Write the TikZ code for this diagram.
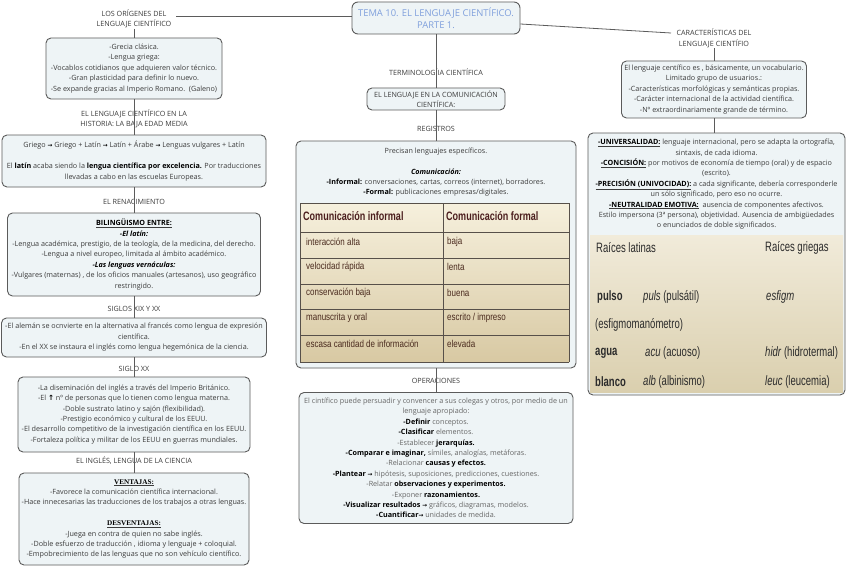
\documentclass[tikz,border=0pt]{standalone}
\usepackage{fontspec}
\setmainfont{Open Sans}
\newfontfamily\estrecha[FakeStretch=0.8]{Liberation Sans}
\newfontfamily\angosta[FakeStretch=0.74]{Liberation Sans}
\newfontfamily\comprimida[FakeStretch=0.7]{Liberation Sans}
\newfontfamily\simbolo{DejaVu Sans}
\newfontfamily\serifa{Liberation Serif}

\definecolor{borde}{HTML}{5B5B5B}
\definecolor{fondo}{HTML}{EEF4F6}
\definecolor{texto}{HTML}{3C3C3C}
\definecolor{gris}{HTML}{666666}
\definecolor{titulo}{HTML}{7F9FDC}
\definecolor{tablaA}{HTML}{F6F0DD}
\definecolor{tablaB}{HTML}{D8C9A3}
\definecolor{rejilla}{HTML}{57504A}
\definecolor{marron}{HTML}{4A2A1E}
\definecolor{granate}{HTML}{4B1E1E}
\definecolor{raizA}{HTML}{F1EBDA}
\definecolor{raizB}{HTML}{DACFAE}
\definecolor{oscuro}{HTML}{2B2B2B}

\newcommand{\resalta}[1]{{\color{black}\bfseries #1}}
\newcommand{\flecha}{{\simbolo\bfseries\color{black}\fontsize{5.8}{10.4}\selectfont →}}
\newcommand{\sube}{{\simbolo\bfseries\color{black}↑}}
\newcommand{\barra}{/}
\newcommand{\letra}{\fontsize{7.2}{10.4}\selectfont}

\begin{document}
\begin{tikzpicture}[x=1pt,y=-1pt,
  caja/.style={rectangle,draw=borde,fill=fondo,rounded corners=5pt,line width=0.9pt,align=center,inner sep=2pt,font=\letra,text=texto},
  etiqueta/.style={align=center,inner sep=0.5pt,font=\letra,text=texto},
  linea/.style={draw=borde,line width=0.8pt},
  rejilla/.style={draw=rejilla,line width=0.9pt},
  cabecera/.style={anchor=west,inner sep=0pt,font=\angosta\bfseries\fontsize{12.2}{14}\selectfont,text=granate},
  celda/.style={anchor=west,inner sep=0pt,font=\estrecha\fontsize{10}{12}\selectfont,text=marron},
  raiz/.style={anchor=west,inner sep=0pt,font=\comprimida\fontsize{13.6}{15}\selectfont,text=oscuro}]

  \useasboundingbox [fill=white] (0,0) rectangle (848,567);

  \node at (436,18) [caja,minimum width=168pt,minimum height=32pt,rounded corners=6pt,text=titulo,font=\fontsize{9.4}{12}\selectfont] (tema) {TEMA 10. EL LENGUAJE CIENTÍFICO.\\PARTE 1.};
  \coordinate (finorig) at (176,16);
  \coordinate (fincar) at (671,33);

  % columna izquierda
  \node at (134,19) [etiqueta] (origenes) {LOS ORÍGENES DEL\\LENGUAJE CIENTÍFICO};
  \node at (134,68.5) [caja,minimum width=176pt,minimum height=61pt] (grecia) {-Grecia clásica.\\-Lengua griega:\\-Vocablos cotidianos que adquieren valor técnico.\\-Gran plasticidad para definir lo nuevo.\\-Se expande gracias al Imperio Romano.\ \ (Galeno)};
  \node at (134,119) [etiqueta] (historia) {EL LENGUAJE CIENTÍFICO EN LA\\HISTORIA: LA BAJA EDAD MEDIA};
  \node at (134,161) [caja,minimum width=264pt,minimum height=52pt] (baja) {Griego \flecha{} Griego + Latín \flecha{} Latín + Árabe \flecha{} Lenguas vulgares + Latín\\[10.4pt]
    El \resalta{latín} acaba siendo la \resalta{lengua científica por excelencia.} Por traducciones\\llevadas a cabo en las escuelas Europeas.};
  \node at (134,202) [etiqueta] (renacimiento) {EL RENACIMIENTO};
  \node at (134,254.5) [caja,minimum width=253pt,minimum height=83pt] (bilingue) {\underline{\resalta{BILINGÜISMO ENTRE:}}\\\resalta{\itshape -El latín:}\\
    -Lengua académica, prestigio, de la teología, de la medicina, del derecho.\\-Lengua a nivel europeo, limitada al ámbito académico.\\
    \resalta{\itshape -Las lenguas vernáculas:}\\-Vulgares (maternas) , de los oficios manuales (artesanos), uso geográfico\\restringido.};
  \node at (134,309) [etiqueta] (xixxx) {SIGLOS XIX Y XX};
  \node at (134,337.5) [caja,minimum width=265pt,minimum height=39pt] (aleman) {-El alemán se ocnvierte en la alternativa al francés como lengua de expresión\\científica.\\-En el XX se instaura el inglés como lengua hegemónica de la ciencia.};
  \node at (134,369) [etiqueta] (sigloxx) {SIGLO XX};
  \node at (134,414.5) [caja,minimum width=232pt,minimum height=75pt] (ingles) {-La diseminación del inglés a través del Imperio Británico.\\-El \sube{} nº de personas que lo tienen como lengua materna.\\
    -Doble sustrato latino y sajón (flexibilidad).\\-Prestigio económico y cultural de los EEUU.\\
    -El desarrollo competitivo de la investigación científica en los EEUU.\\-Fortaleza política y militar de los EEUU en guerras mundiales.};
  \node at (134,461) [etiqueta] (ciencia) {EL INGLÉS, LENGUA DE LA CIENCIA};
  \node at (134,519) [caja,minimum width=230pt,minimum height=92pt] (ventajas) {\underline{\resalta{\serifa VENTAJAS:}}\\-Favorece la comunicación científica internacional.\\
    -Hace innecesarias las traducciones de los trabajos a otras lenguas.\\[10.4pt]
    \underline{\resalta{\serifa DESVENTAJAS:}}\\-Juega en contra de quien no sabe inglés.\\
    -Doble esfuerzo de traducción , idioma y lenguaje + coloquial.\\-Empobrecimiento de las lenguas que no son vehículo científico.};

  % columna central
  \node at (436,72) [etiqueta] (terminologia) {TERMINOLOGÍIA CIENTÍFICA};
  \node at (436,99) [caja,minimum width=138pt,minimum height=22pt] (comun) {EL LENGUAJE EN LA COMUNICACIÓN\\CIENTÍFICA:};
  \node at (436,129) [etiqueta] (registros) {REGISTROS};
  \node at (436,254.5) [caja,minimum width=280pt,minimum height=227pt] (precisan) {};
  \node at (precisan.north) [etiqueta,anchor=north,yshift=-6.5pt] (precisantxt) {Precisan lenguajes específicos.\\[10.4pt]
    \resalta{\itshape Comunicación:}\\\resalta{-Informal:} conversaciones, cartas, correos (internet), borradores.\\\resalta{-Formal:} publicaciones empresas/digitales.};

  \shade [top color=tablaA,bottom color=tablaB] (300,203) rectangle (569,362);
  \foreach \y in {203,232,258,284,309,335,362}
    \draw [rejilla] (300,\y) -- (569,\y);
  \foreach \x in {300,443,569}
    \draw [rejilla] (\x,203) -- (\x,362);
  \node at (303,216) [cabecera] (cabinf) {Comunicación informal};
  \node at (446,216) [cabecera] (cabfor) {Comunicación formal};
  \foreach \y/\a/\b in {242/interacción alta/baja, 267/velocidad rápida/lenta, 293/conservación baja/buena,
      318/manuscrita y oral/escrito \barra{} impreso, 344/escasa cantidad de información/elevada} {
    \node at (306,\y) [celda] (inf\y) {\a};
    \node at (447,\y) [celda] (for\y) {\b};
  }

  \node at (436,381) [etiqueta] (operaciones) {OPERACIONES};
  \node at (436,458) [caja,minimum width=274pt,minimum height=131pt,text=gris] (cintifico) {El cintífico puede persuadir y convencer a sus colegas y otros, por medio de un\\lenguaje apropiado:\\
    \resalta{-Definir} conceptos.\\\resalta{-Clasificar} elementos.\\-Establecer \resalta{jerarquías.}\\
    \resalta{-Comparar e imaginar,} símiles, analogías, metáforas.\\-Relacionar \resalta{causas y efectos.}\\
    \resalta{-Plantear} \flecha{} hipótesis, suposiciones, predicciones, cuestiones.\\-Relatar \resalta{observaciones y experimentos.}\\
    -Exponer \resalta{razonamientos.}\\\resalta{-Visualizar resultados} \flecha{} gráficos, diagramas, modelos.\\\resalta{-Cuantificar}\flecha{} unidades de medida.};

  % columna derecha
  \node at (714,38.5) [etiqueta] (caract) {CARACTERÍSTICAS DEL\\LENGUAJE CIENTÍFIO};
  \node at (714,89.5) [caja,minimum width=185pt,minimum height=57pt] (vocab) {El lenguaje centífico es , básicamente, un vocabulario.\\Limitado grupo de usuarios.:\\
    -Características morfológicas y semánticas propias.\\-Carácter internacional de la actividad científica.\\-Nº extraordinariamente grande de término.};
  \node at (716.5,264) [caja,minimum width=257pt,minimum height=262pt] (rasgos) {};
  \node at (rasgos.north) [etiqueta,anchor=north,yshift=-6pt] (rasgostxt) {\underline{\resalta{-UNIVERSALIDAD:}} lenguaje internacional, pero se adapta la ortografía,\\sintaxis, de cada idioma.\\
    \underline{\resalta{-CONCISIÓN:}} por motivos de economía de tiempo (oral) y de espacio\\(escrito).\\
    \underline{\resalta{-PRECISIÓN (UNIVOCIDAD):}} a cada significante, debería corresponderle\\un sólo significado, pero eso no ocurre.\\
    \underline{\resalta{-NEUTRALIDAD EMOTIVA:}}\ \ ausencia de componentes afectivos.\\
    Estilo impersona (3ª persona), objetividad. Ausencia de ambigüedades\\o enunciados de doble significados.};

  \shade [top color=raizA,bottom color=raizB] (590,235) rectangle (843,392);
  \node at (596,248) [raiz] (latinas) {Raíces latinas};
  \node at (765,248) [raiz] (griegas) {Raíces griegas};
  \node at (597,297) [raiz] (pulso) {\bfseries pulso};
  \node at (643,297) [raiz] (puls) {\textit{puls} (pulsátil)};
  \node at (766,297) [raiz] (esfigm) {\textit{esfigm}};
  \node at (595,325) [raiz] (esfigmo) {(esfigmomanómetro)};
  \node at (595,353) [raiz] (agua) {\bfseries agua};
  \node at (645,353) [raiz] (acu) {\textit{acu} (acuoso)};
  \node at (765,353) [raiz] (hidr) {\textit{hidr} (hidrotermal)};
  \node at (595,382) [raiz] (blanco) {\bfseries blanco};
  \node at (643,382) [raiz] (alb) {\textit{alb} (albinismo)};
  \node at (765,382) [raiz] (leuc) {\textit{leuc} (leucemia)};

  % conectores
  \draw [linea] (tema.west |- finorig) -- (finorig);
  \draw [linea] (origenes) edge (grecia);
  \draw [linea] (grecia) edge (baja);
  \draw [linea] (baja) edge (bilingue);
  \draw [linea] (bilingue) edge (aleman);
  \draw [linea] (aleman) edge (ingles);
  \draw [linea] (ingles) edge (ventajas);
  \draw [linea] (tema) edge (comun);
  \draw [linea] (comun) edge (precisan);
  \draw [linea] (precisan) edge (cintifico);
  \draw [linea] ([yshift=-6pt]tema.east) -- (fincar);
  \draw [linea] (caract) edge (vocab);
  \draw [linea] (vocab) edge (vocab |- rasgos.north);
\end{tikzpicture}
\end{document}
